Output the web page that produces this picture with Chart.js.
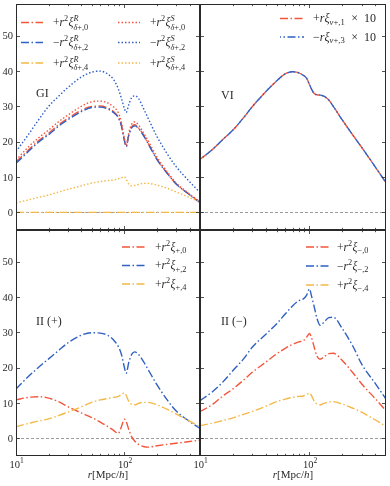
<!DOCTYPE html>
<html>
<head>
<meta charset="utf-8">
<script src="https://cdn.jsdelivr.net/npm/chart.js@4.4.0/dist/chart.umd.min.js"></script>
<style>
html, body { margin: 0; padding: 0; background: #fff; }
#wrap { position: relative; width: 390px; height: 486px; }
#wrap canvas { position: absolute; left: 0; top: 0; }
</style>
</head>
<body>
<div id="wrap">
  <canvas id="gi" width="390" height="486"></canvas>
  <canvas id="vi" width="390" height="486"></canvas>
  <canvas id="iip" width="390" height="486"></canvas>
  <canvas id="iim" width="390" height="486"></canvas>
</div>
<script>
// separation r [Mpc/h], shared by every curve
const rGrid = [10, 13, 16, 20, 25, 30, 40, 50, 60, 70, 80, 88, 94, 100, 104, 110, 117, 125, 135, 150, 165, 200, 250, 300, 400, 500];

// GI panel
const giR0 = [14.3, 17.6, 20.2, 22.4, 24.9, 26.6, 28.9, 30.0, 30.1, 29.6, 28.5, 27.0, 24.7, 20.6, 18.7, 22.0, 24.2, 24.8, 24.0, 22.0, 19.7, 15.1, 11.0, 8.1, 5.0, 2.8];
const giR2 = [13.9, 17.2, 19.8, 22.0, 24.5, 26.2, 28.5, 29.7, 29.8, 29.3, 28.2, 26.8, 24.5, 20.5, 18.6, 21.8, 23.9, 24.5, 23.8, 21.8, 19.6, 15.0, 11.0, 8.1, 5.0, 2.8];
const giR4 = [0, 0, 0, 0, 0, 0, 0, 0, 0, 0, 0, 0, 0, 0, 0, 0, 0, 0, 0, 0, 0, 0, 0, 0, 0, 0];
const giS0 = [14.8, 18.5, 21.0, 23.3, 25.8, 27.5, 30.0, 31.3, 31.5, 31.0, 29.8, 28.2, 25.5, 21.0, 19.0, 22.5, 25.0, 25.6, 24.8, 22.6, 20.4, 15.7, 11.4, 8.4, 5.2, 3.0];
const giS2 = [17.2, 22.0, 26.0, 30.0, 33.0, 35.3, 38.3, 39.7, 40.0, 39.2, 37.5, 35.0, 32.3, 29.5, 28.3, 30.5, 32.5, 33.0, 32.3, 29.5, 26.8, 21.5, 16.5, 13.0, 8.7, 5.6];
const giS4 = [2.7, 3.5, 4.2, 4.9, 5.8, 6.5, 7.5, 8.3, 8.7, 9.0, 9.2, 9.5, 9.8, 10.1, 9.4, 8.0, 7.5, 7.6, 7.9, 8.2, 8.2, 7.7, 6.8, 5.8, 4.2, 2.9];

// VI panel (both multipoles coincide)
const viV1 = [15.0, 17.8, 20.5, 23.3, 26.8, 29.9, 34.2, 37.2, 39.2, 39.8, 39.5, 38.8, 38.0, 36.2, 35.0, 33.7, 33.3, 33.2, 32.9, 31.8, 30.0, 26.1, 21.8, 18.4, 12.8, 8.4];
const viV3 = [15.0, 17.8, 20.5, 23.3, 26.8, 29.9, 34.2, 37.2, 39.2, 39.8, 39.5, 38.8, 38.0, 36.2, 35.0, 33.7, 33.3, 33.2, 32.9, 31.8, 30.0, 26.1, 21.8, 18.4, 12.8, 8.4];

// II (+) panel
const ipX0 = [10.9, 11.6, 11.8, 11.4, 10.3, 9.0, 7.2, 5.9, 4.6, 3.4, 2.2, 1.4, 3.3, 5.4, 4.8, 2.5, 0.4, -0.8, -1.7, -2.3, -2.5, -2.1, -1.7, -1.4, -0.9, -0.5];
const ipX2 = [14.0, 17.5, 20.0, 22.5, 25.0, 27.0, 29.2, 29.9, 29.8, 29.2, 27.8, 26.0, 23.8, 20.2, 18.4, 21.5, 23.8, 24.5, 23.8, 21.8, 19.6, 15.2, 10.8, 7.8, 4.8, 2.8];
const ipX4 = [3.3, 4.2, 4.9, 5.5, 6.5, 7.4, 8.9, 10.2, 10.9, 11.3, 11.6, 11.9, 12.4, 12.9, 12.2, 10.5, 9.6, 9.5, 9.9, 10.2, 10.2, 9.5, 8.2, 6.9, 4.9, 3.3];

// II (-) panel
const imX0 = [7.6, 9.6, 11.9, 14.0, 16.5, 18.7, 21.6, 23.9, 25.5, 26.6, 27.3, 27.7, 28.6, 29.7, 28.7, 26.0, 23.3, 22.4, 23.0, 24.0, 24.1, 22.0, 18.5, 15.4, 11.2, 7.8];
const imX2 = [10.7, 13.2, 15.8, 19.2, 22.5, 25.8, 29.5, 32.4, 35.2, 37.5, 39.0, 39.5, 40.5, 42.3, 40.5, 37.5, 34.0, 32.0, 32.8, 34.2, 34.3, 31.0, 26.0, 21.0, 15.5, 11.1];
const imX4 = [3.6, 4.3, 5.0, 5.8, 6.8, 7.6, 9.1, 10.4, 11.1, 11.6, 11.9, 12.0, 12.4, 12.8, 12.2, 10.6, 9.7, 9.5, 9.9, 10.3, 10.4, 9.7, 8.5, 7.4, 5.2, 3.4];

// ticks
const xMajor = [10, 100];
const xMinor = [20, 30, 40, 50, 60, 70, 80, 90, 200, 300, 400];
const xTickLabels = ['10^1', '10^2'];
const yMajor = [0, 10, 20, 30, 40, 50];
const yTickLabels = ['0', '10', '20', '30', '40', '50'];
const xTitle = 'r[`Mpc`/h]';

const RED = '#f4563c', BLUE = '#2f60c2', ORANGE = '#f4b848', GREY = '#9b9b9b', INK = '#2a2a2a';
const DASHDOT = [8, 2.5, 1.5, 2.5];
const DOTTED = [1.5, 2];
const SERIF = '"Liberation Serif", "DejaVu Serif", serif';

// --- tiny math text renderer: ^ and _ (with {}) and `roman` runs
function parseMath(s) {
  const out = [];
  let i = 0, roman = false;
  const grab = () => {
    if (s[i] === '{') { const j = s.indexOf('}', i); const t = s.slice(i + 1, j); i = j + 1; return t; }
    return s[i++];
  };
  while (i < s.length) {
    const c = s[i];
    if (c === '`') { roman = !roman; i++; continue; }
    if (c === '^' || c === '_') {
      i++;
      const t = grab();
      let last = out[out.length - 1];
      const key = c === '^' ? 'sup' : 'sub';
      if (!last || last.t !== undefined || last[key] !== undefined) { last = {}; out.push(last); }
      last[key] = t;
    } else {
      out.push({ t: c, roman: roman });
      i++;
    }
  }
  return out;
}
function setFont(ctx, c, size, roman) {
  const it = !roman && /[A-Za-z\u0370-\u03FF]/.test(c);
  ctx.font = (it ? 'italic ' : '') + size + 'px ' + SERIF;
}
function runWidth(ctx, str, size, roman) {
  let w = 0;
  for (const c of str) { setFont(ctx, c, size, roman); w += ctx.measureText(c).width; }
  return w;
}
function drawRun(ctx, str, x, y, size, roman) {
  for (const c of str) { setFont(ctx, c, size, roman); ctx.fillText(c, x, y); x += ctx.measureText(c).width; }
}
function drawMath(ctx, s, x, y, size, measureOnly) {
  const ss = size * 0.72;
  let cx = x;
  parseMath(s).forEach(p => {
    if (p.t !== undefined) {
      if (!measureOnly) drawRun(ctx, p.t, cx, y, size, p.roman);
      cx += runWidth(ctx, p.t, size, p.roman);
    } else {
      const wUp = p.sup ? runWidth(ctx, p.sup, ss) : 0;
      const wDn = p.sub ? runWidth(ctx, p.sub, ss) : 0;
      if (!measureOnly) {
        if (p.sup) drawRun(ctx, p.sup, cx, y - size * 0.42, ss);
        if (p.sub) drawRun(ctx, p.sub, cx, y + size * (p.sup ? 0.32 : 0.22), ss);
      }
      cx += Math.max(wUp, wDn) + 0.5;
    }
  });
  return cx - x;
}

function makeDecor(panel) {
  return {
    id: 'decor_' + panel.id,
    beforeDatasetsDraw(chart) {
      const { ctx, chartArea: a, scales: { y } } = chart;
      const y0 = Math.round(y.getPixelForValue(0)) + 0.5;
      ctx.save();
      ctx.strokeStyle = GREY;
      ctx.lineWidth = 1;
      ctx.setLineDash([3, 2]);
      ctx.beginPath();
      ctx.moveTo(a.left, y0);
      ctx.lineTo(a.right, y0);
      ctx.stroke();
      ctx.restore();
    },
    afterDatasetsDraw(chart) {
      const { ctx, chartArea: a, scales: { x, y } } = chart;
      ctx.save();
      ctx.strokeStyle = INK;
      ctx.fillStyle = INK;
      ctx.lineWidth = 0.8;
      const seg = (x1, y1, x2, y2) => { ctx.beginPath(); ctx.moveTo(x1, y1); ctx.lineTo(x2, y2); ctx.stroke(); };

      // inward ticks on all four sides
      xMajor.concat(xMinor).forEach(v => {
        const px = Math.round(x.getPixelForValue(v)) + 0.5;
        const len = xMajor.includes(v) ? 4 : 2.2;
        seg(px, a.bottom, px, a.bottom - len);
        seg(px, a.top, px, a.top + len);
      });
      yMajor.forEach(v => {
        const py = Math.round(y.getPixelForValue(v)) + 0.5;
        seg(a.left, py, a.left + 4, py);
        seg(a.right, py, a.right - 4, py);
      });
      ctx.lineWidth = 1;
      ctx.strokeRect(a.left + 0.5, a.top + 0.5, a.width - 1, a.height - 1);

      // tick labels
      const fs = 10.5;
      if (panel.yLabels) {
        ctx.textAlign = 'left';
        yMajor.forEach((v, i) => {
          const w = drawMath(ctx, yTickLabels[i], 0, 0, fs, true);
          drawMath(ctx, yTickLabels[i], a.left - 3 - w, y.getPixelForValue(v) + fs * 0.34, fs);
        });
      }
      if (panel.xLabels) {
        xMajor.forEach((v, i) => {
          const w = drawMath(ctx, xTickLabels[i], 0, 0, fs, true);
          drawMath(ctx, xTickLabels[i], x.getPixelForValue(v) - w / 2 + 1, a.bottom + 11.5, fs);
        });
        const tw = drawMath(ctx, xTitle, 0, 0, 11, true);
        drawMath(ctx, xTitle, (a.left + a.right) / 2 - tw / 2, a.bottom + 22, 11);
      }

      // panel name
      ctx.font = '12px ' + SERIF;
      ctx.fillText(panel.name, panel.namePos[0], panel.namePos[1]);

      // legend
      const lg = panel.legend;
      chart.data.datasets.forEach((ds, i) => {
        const col = Math.floor(i / lg.perCol);
        const row = i % lg.perCol;
        const [hx, tx] = lg.cols[col];
        const ly = lg.rows[row];
        ctx.save();
        ctx.strokeStyle = ds.borderColor;
        ctx.lineWidth = ds.borderWidth;
        ctx.setLineDash(ds.borderDash);
        ctx.lineDashOffset = ds.borderDashOffset || 0;
        seg(hx, ly, hx + lg.len, ly);
        ctx.restore();
        drawMath(ctx, ds.label, tx, ly + 3.6, lg.fs);
      });
      ctx.restore();
    }
  };
}

const line = (label, vals, color, dash, offset) => ({
  label: label,
  data: rGrid.map((r, i) => ({ x: r, y: vals[i] })),
  borderColor: color,
  borderWidth: 1.4,
  borderDash: dash,
  borderDashOffset: offset || 0,
  pointRadius: 0,
  fill: false,
  cubicInterpolationMode: 'monotone'
});

const panels = [
  {
    id: 'gi', area: { left: 16, top: 4, right: 200, bottom: 230 }, yLabels: true, xLabels: false,
    name: 'GI', namePos: [36, 97],
    legend: { perCol: 3, cols: [[21, 53], [118, 150]], rows: [22.5, 42.5, 63], len: 22, fs: 11.5 },
    datasets: [
      line('+r^2ξ^R_{δ+,0}', giR0, RED, DASHDOT),
      line('−r^2ξ^R_{δ+,2}', giR2, BLUE, DASHDOT),
      line('+r^2ξ^R_{δ+,4}', giR4, ORANGE, DASHDOT),
      line('+r^2ξ^S_{δ+,0}', giS0, RED, DOTTED),
      line('−r^2ξ^S_{δ+,2}', giS2, BLUE, DOTTED),
      line('+r^2ξ^S_{δ+,4}', giS4, ORANGE, DOTTED)
    ]
  },
  {
    id: 'vi', area: { left: 200, top: 4, right: 386, bottom: 230 }, yLabels: false, xLabels: false,
    name: 'VI', namePos: [221, 99],
    legend: { perCol: 3, cols: [[280, 313]], rows: [18.5, 37], len: 24, fs: 12 },
    datasets: [
      line('+rξ_{v+,1}  ×  10', viV1, RED, DASHDOT),
      line('−rξ_{v+,3}  ×  10', viV3, BLUE, DASHDOT, 7)
    ]
  },
  {
    id: 'iip', area: { left: 16, top: 230, right: 200, bottom: 456 }, yLabels: true, xLabels: true,
    name: 'II (+)', namePos: [36, 325],
    legend: { perCol: 3, cols: [[122, 155]], rows: [247, 265.5, 284], len: 24, fs: 11.5 },
    datasets: [
      line('+r^2ξ_{+,0}', ipX0, RED, DASHDOT),
      line('+r^2ξ_{+,2}', ipX2, BLUE, DASHDOT),
      line('+r^2ξ_{+,4}', ipX4, ORANGE, DASHDOT)
    ]
  },
  {
    id: 'iim', area: { left: 200, top: 230, right: 386, bottom: 456 }, yLabels: false, xLabels: true,
    name: 'II (−)', namePos: [221, 325],
    legend: { perCol: 3, cols: [[306, 337]], rows: [247, 266, 285], len: 24, fs: 11.5 },
    datasets: [
      line('+r^2ξ_{−,0}', imX0, RED, DASHDOT),
      line('−r^2ξ_{−,2}', imX2, BLUE, DASHDOT),
      line('+r^2ξ_{−,4}', imX4, ORANGE, DASHDOT)
    ]
  }
];

panels.forEach(p => {
  // later series drawn on top, like the original figure
  p.datasets.forEach((ds, i) => { ds.order = -i; });
  new Chart(document.getElementById(p.id), {
    type: 'line',
    data: { datasets: p.datasets },
    options: {
      responsive: false,
      animation: false,
      events: [],
      layout: { padding: { left: p.area.left, top: p.area.top, right: 390 - p.area.right, bottom: 486 - p.area.bottom } },
      plugins: { legend: { display: false }, tooltip: { enabled: false } },
      scales: {
        x: { type: 'logarithmic', min: 10, max: 500, display: false },
        y: { type: 'linear', min: -5, max: 59, display: false }
      }
    },
    plugins: [makeDecor(p)]
  });
});
</script>
</body>
</html>
